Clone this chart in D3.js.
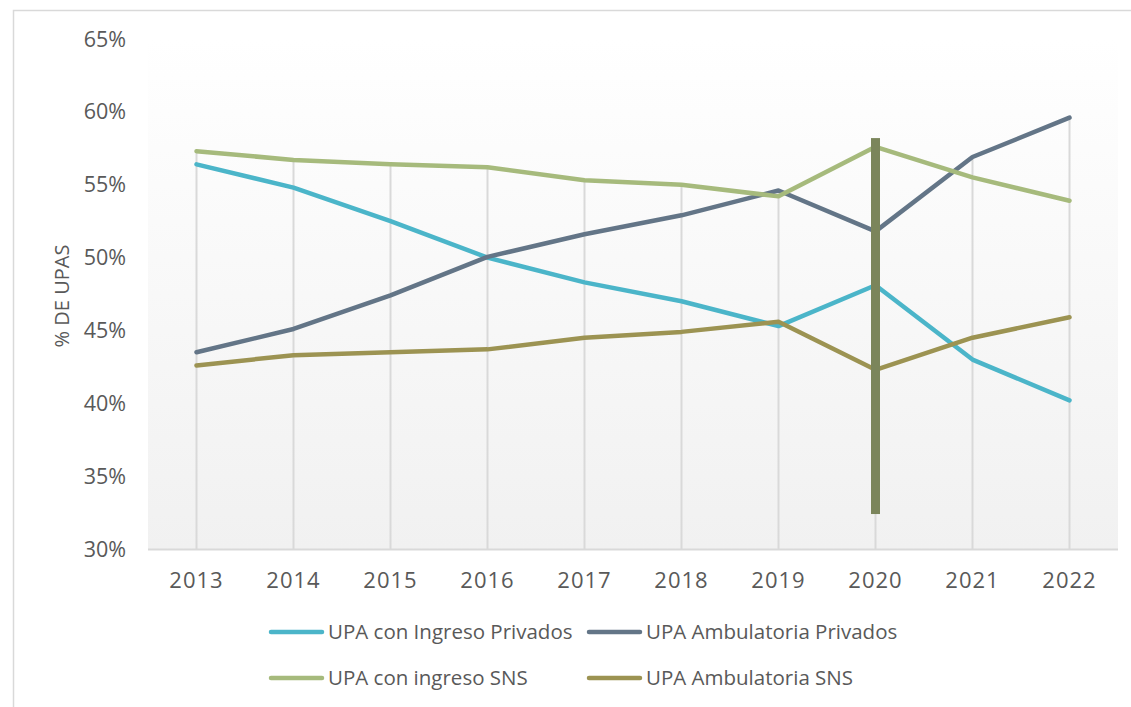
<!DOCTYPE html>
<html>
<head>
<meta charset="utf-8">
<script src="https://cdn.jsdelivr.net/npm/d3@7"></script>
<style>
  body { margin: 0; background: #fff; }
  svg { font-family: "Open Sans", "Noto Sans", sans-serif; }
</style>
</head>
<body>
<svg id="chart" width="1131" height="707"></svg>
<script>
// data (percent)
var years = [2013, 2014, 2015, 2016, 2017, 2018, 2019, 2020, 2021, 2022];
var ingresoPrivados = [56.4, 54.8, 52.5, 50.0, 48.3, 47.0, 45.3, 48.1, 43.0, 40.2];
var ambulatoriaPrivados = [43.5, 45.1, 47.4, 50.05, 51.6, 52.9, 54.6, 51.8, 56.9, 59.6];
var ingresoSNS = [57.3, 56.7, 56.4, 56.2, 55.3, 55.0, 54.2, 57.6, 55.5, 53.9];
var ambulatoriaSNS = [42.6, 43.3, 43.5, 43.7, 44.5, 44.9, 45.6, 42.3, 44.5, 45.9];
var seriesNames = ["UPA con Ingreso Privados", "UPA Ambulatoria Privados", "UPA con ingreso SNS", "UPA Ambulatoria SNS"];
var seriesColors = ["#4bb5c9", "#637587", "#a6ba7c", "#9c9352"];
var yTicks = [30, 35, 40, 45, 50, 55, 60, 65];
// highlighted year bar (2020)
var markYear = 2020;
var markRange = [32.4, 58.2];

var series = [ingresoPrivados, ambulatoriaPrivados, ingresoSNS, ambulatoriaSNS];

var svg = d3.select("#chart"),
    margin = { top: 39, right: 13, bottom: 158, left: 148 },
    width = 1131 - margin.left - margin.right,
    height = 707 - margin.top - margin.bottom;

// outer chart border
svg.append("rect")
  .attr("x", 13.5).attr("y", 10.5)
  .attr("width", 1131).attr("height", 707)
  .attr("fill", "none")
  .attr("stroke", "#d9d9d9")
  .attr("stroke-width", 1.5);

var defs = svg.append("defs");
var grad = defs.append("linearGradient")
  .attr("id", "bg").attr("x1", 0).attr("y1", 0).attr("x2", 0).attr("y2", 1);
grad.append("stop").attr("offset", "0%").attr("stop-color", "#ffffff");
grad.append("stop").attr("offset", "100%").attr("stop-color", "#f1f1f1");

var g = svg.append("g")
  .attr("transform", "translate(" + margin.left + "," + margin.top + ")");

var x = d3.scaleBand().domain(years).range([0, width]);
var y = d3.scaleLinear().domain([30, 65]).range([height, 0]);
var cx = function(yr) { return x(yr) + x.bandwidth() / 2; };

g.append("rect")
  .attr("width", width).attr("height", height)
  .attr("fill", "url(#bg)");

// drop lines from the highest point of each year
g.append("g").selectAll("line")
  .data(years)
  .enter().append("line")
    .attr("x1", function(d) { return cx(d); })
    .attr("x2", function(d) { return cx(d); })
    .attr("y1", function(d, i) {
      return y(d3.max(series, function(s) { return s[i]; }));
    })
    .attr("y2", height)
    .attr("stroke", "#d9d9d9")
    .attr("stroke-width", 2);

// bottom axis line
g.append("line")
  .attr("x1", 0).attr("x2", width)
  .attr("y1", height + 0.5).attr("y2", height + 0.5)
  .attr("stroke", "#d9d9d9").attr("stroke-width", 2);

// y tick labels
g.append("g").selectAll("text")
  .data(yTicks)
  .enter().append("text")
    .attr("x", -22)
    .attr("y", function(d) { return y(d); })
    .attr("dy", "0.35em")
    .attr("text-anchor", "end")
    .attr("font-size", 21.5)
    .attr("fill", "#595959")
    .text(function(d) { return d + "%"; });

// x tick labels
g.append("g").selectAll("text")
  .data(years)
  .enter().append("text")
    .attr("x", function(d) { return cx(d); })
    .attr("y", height + 39)
    .attr("text-anchor", "middle")
    .attr("font-size", 22)
    .attr("letter-spacing", 1)
    .attr("fill", "#595959")
    .text(function(d) { return d; });

// y axis title
g.append("text")
  .attr("transform", "translate(" + (-79) + "," + (height / 2 + 2) + ") rotate(-90)")
  .attr("text-anchor", "middle")
  .attr("font-size", 20)
  .attr("fill", "#595959")
  .text("% DE UPAS");

var line = d3.line()
  .x(function(d, i) { return cx(years[i]); })
  .y(function(d) { return y(d); });

g.append("g").selectAll("path")
  .data(series)
  .enter().append("path")
    .attr("d", line)
    .attr("fill", "none")
    .attr("stroke", function(d, i) { return seriesColors[i]; })
    .attr("stroke-width", 4.5)
    .attr("stroke-linejoin", "round")
    .attr("stroke-linecap", "round");

// 2020 highlight bar
g.append("rect")
  .attr("x", cx(markYear) - 4.5)
  .attr("y", y(markRange[1]))
  .attr("width", 9)
  .attr("height", y(markRange[0]) - y(markRange[1]))
  .attr("fill", "#7b855b");

// legend
var legend = svg.append("g").selectAll("g")
  .data(seriesNames)
  .enter().append("g")
    .attr("transform", function(d, i) {
      return "translate(" + (i % 2 === 0 ? 271 : 589) + "," + (i < 2 ? 632 : 678) + ")";
    });

legend.append("line")
  .attr("x1", 0).attr("x2", 51)
  .attr("stroke", function(d, i) { return seriesColors[i]; })
  .attr("stroke-width", 4.5)
  .attr("stroke-linecap", "round");

legend.append("text")
  .attr("x", 57)
  .attr("dy", "0.35em")
  .attr("font-size", 20.5)
  .attr("fill", "#595959")
  .text(function(d) { return d; });
</script>
</body>
</html>
